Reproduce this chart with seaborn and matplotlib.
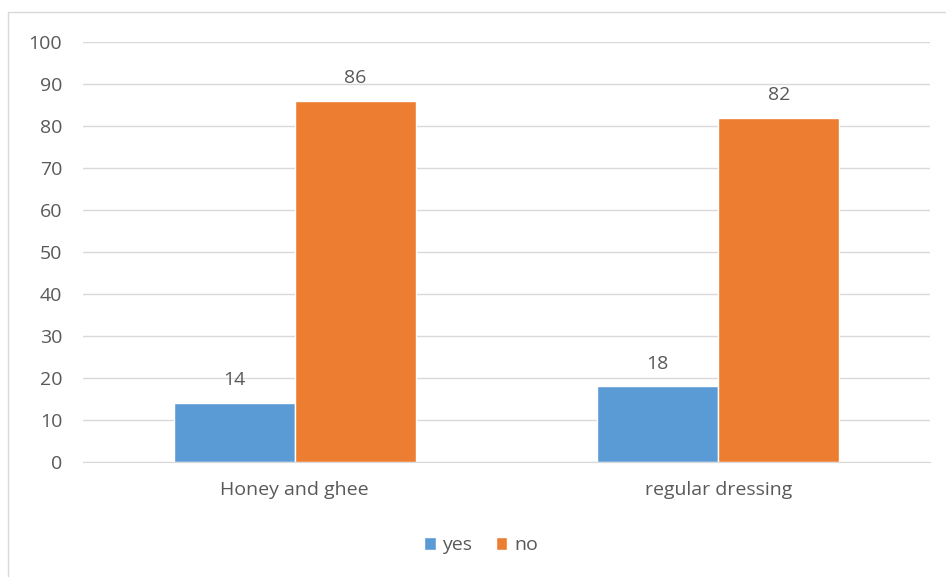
import matplotlib
matplotlib.use("Agg")
import matplotlib.pyplot as plt
import pandas as pd
import seaborn as sns

# values
categories = ["Honey and ghee", "regular dressing"]
yes_values = [14, 18]
no_values = [86, 82]

df = pd.DataFrame({
    "Group": categories * 2,
    "Answer": ["yes"] * 2 + ["no"] * 2,
    "Value": yes_values + no_values,
})

sns.set_style("white")
plt.rcParams["font.family"] = ["Open Sans", "DejaVu Sans"]
txt = "#595959"
fs = 14

fig = plt.figure(figsize=(9.46, 5.77), dpi=100)
ax = fig.add_axes([0.0877, 0.1993, 0.8953, 0.7277])

sns.barplot(data=df, x="Group", y="Value", hue="Answer",
            palette={"yes": "#5B9BD5", "no": "#ED7D31"},
            width=0.572, gap=0, saturation=1, ax=ax, legend=True)

ax.set_ylim(0, 100)
ax.set_xlim(-0.5, 1.5)
ax.set_yticks(range(0, 101, 10))
ax.yaxis.grid(True, color="#D9D9D9", linewidth=1)
ax.set_axisbelow(True)
for s in ["top", "right", "left"]:
    ax.spines[s].set_visible(False)
ax.spines["bottom"].set_color("#D9D9D9")
ax.tick_params(axis="both", length=0, colors=txt, labelsize=fs)
ax.tick_params(axis="y", pad=15)
ax.tick_params(axis="x", pad=14)
ax.set_xlabel("")
ax.set_ylabel("")

for c in ax.containers:
    ax.bar_label(c, padding=10, color=txt, fontsize=fs)

ax.legend(loc="upper center", bbox_to_anchor=(0.47, -0.135), ncol=2, frameon=False,
          fontsize=fs, labelcolor=txt, handlelength=0.6, handleheight=0.6,
          handletextpad=0.35, columnspacing=1.2)

# light chart frame
fig.add_artist(plt.Line2D([0.0085, 0.0085], [0, 0.979], color="#D9D9D9", lw=1))
fig.add_artist(plt.Line2D([0.0085, 1], [0.979, 0.979], color="#D9D9D9", lw=1))

fig.savefig("out.png", dpi=100)
